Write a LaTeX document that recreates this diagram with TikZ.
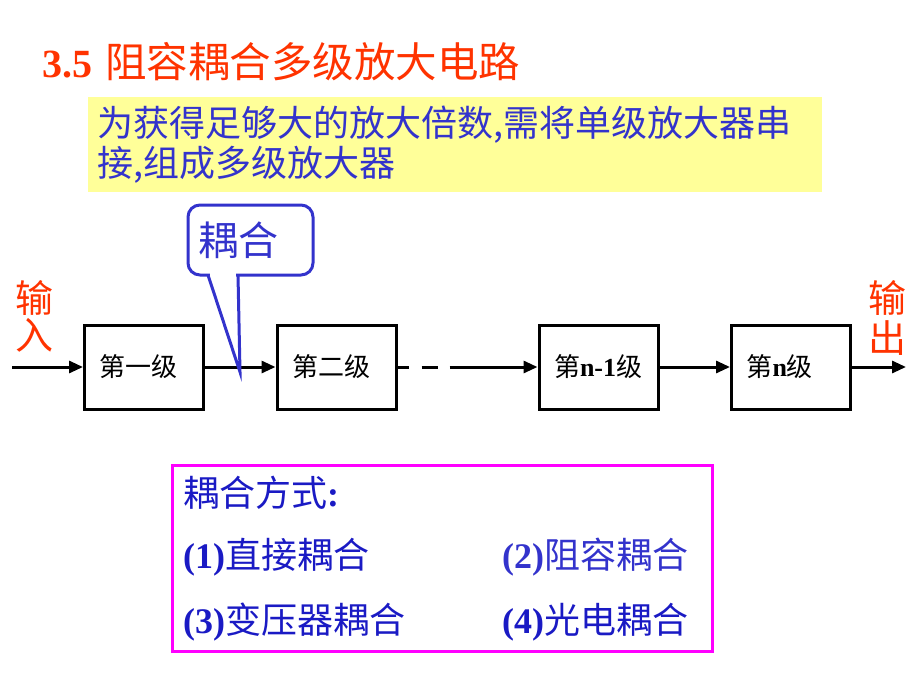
\documentclass[tikz,border=0pt]{standalone}
\usepackage{fontspec}
\setmainfont{Liberation Serif}
\newfontfamily\cjk{Noto Sans CJK SC}
\usetikzlibrary{arrows.meta}
\definecolor{titlered}{HTML}{FF3300}
\definecolor{textblue}{HTML}{3333CC}
\definecolor{darkblue}{HTML}{1A1AC4}
\definecolor{noteyellow}{HTML}{FFFF99}
\definecolor{boxmagenta}{HTML}{FF00FF}
\begin{document}
\begin{tikzpicture}[x=1pt,y=-1pt,
  stagebox/.style={draw=black, line width=3pt, minimum width=119pt, minimum height=84pt,
    text width=89pt, align=left, inner xsep=15pt, inner ysep=0pt,
    font=\cjk\fontsize{26}{28}\selectfont},
  flow/.style={line width=3pt, -{Triangle[length=14pt,width=12pt]}},
  redlabel/.style={text=titlered, align=center, inner sep=0pt},
  item/.style={anchor=west, inner sep=0pt, text=darkblue, font=\fontsize{36}{36}\selectfont}]
\useasboundingbox (0,0) rectangle (920,690);

% title
\node[anchor=west, inner sep=0pt, text=titlered, font=\fontsize{40}{40}\selectfont] (title) at (42,62)
  {\bfseries 3.5\hspace{3pt} {\cjk\mdseries\fontsize{41.5}{42}\selectfont 阻容耦合多级放大电路}};

% yellow note
\node[fill=noteyellow, minimum width=734pt, minimum height=95pt, text width=716pt, inner xsep=9pt,
  align=left, text=textblue, font=\cjk\fontsize{36}{40}\selectfont] (note) at (455,144.5)
  {为获得足够大的放大倍数,需将单级放大器串\\接,组成多级放大器};

% stages
\node[stagebox] (b1) at (144,367) {第一级};
\node[stagebox] (b2) at (336.5,367) {第二级};
\node[stagebox] (b3) at (598.5,367) {第{\rmfamily\bfseries n-1}级};
\node[stagebox] (b4) at (791,367) {第{\rmfamily\bfseries n}级};

\coordinate (start) at (12,367);
\coordinate (dashend) at (466,367);
\coordinate (outend) at (906,367);

\draw[flow] (start) -- (b1.west);
\draw[flow] (b1.east) -- (b2.west);
\draw[line width=3pt, dash pattern=on 11pt off 13pt on 16pt off 12pt on 17pt off 0pt] (b2.east) -- (dashend);
\draw[flow] (dashend) -- (b3.west);
\draw[flow] (b3.east) -- (b4.west);
\draw[flow] (b4.east) -- (outend);

% input / output labels
\node[redlabel, font=\cjk\fontsize{38}{37}\selectfont] (inlab) at (35,316) {输\\入};
\node[redlabel, font=\cjk\fontsize{38}{40}\selectfont] (outlab) at (887,318) {输\\出};

% callout
\node[draw=textblue, line width=3pt, rounded corners=12pt, fill=white, minimum width=125pt,
  minimum height=70pt, text width=105pt, inner xsep=10pt, align=left, text=textblue,
  font=\cjk\fontsize{40}{40}\selectfont] (callout) at (250.5,240) {耦合};
\fill[white] (210,271) rectangle (236,279);
\draw[textblue, line width=3pt, line join=miter] (208,275) -- (240,372) -- (238,275);

% coupling methods box
\node[draw=boxmagenta, line width=3pt, minimum width=540pt, minimum height=186pt] (methods) at (442,558) {};
\node[item] (m0) at (183,493) {{\cjk 耦合方式}\bfseries :};
\node[item] (m1) at (183,557) {{\bfseries (1)}{\cjk 直接耦合}};
\node[item, text=textblue] (m2) at (502,557) {{\bfseries (2)}{\cjk 阻容耦合}};
\node[item] (m3) at (183,622) {{\bfseries (3)}{\cjk 变压器耦合}};
\node[item] (m4) at (502,622) {{\bfseries (4)}{\cjk 光电耦合}};
\end{tikzpicture}
\end{document}
